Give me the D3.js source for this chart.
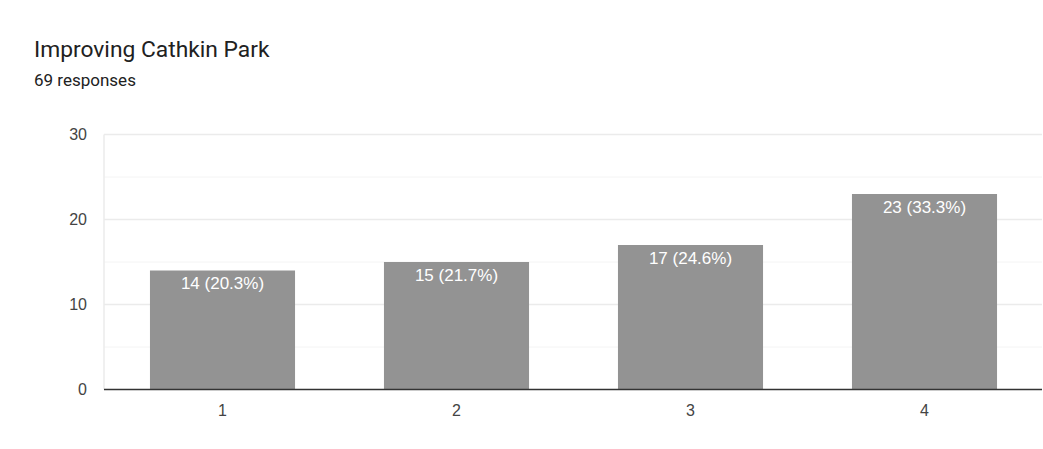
<!DOCTYPE html>
<html>
<head>
<meta charset="utf-8">
<script src="https://cdn.jsdelivr.net/npm/d3@7"></script>
<style>
  body { margin: 0; background: #fff; }
  svg { display: block; }
</style>
</head>
<body>
<svg id="chart"></svg>
<script>
const title = "Improving Cathkin Park"
const subtitle = "69 responses"
const categories = ["1", "2", "3", "4"]
const counts = [14, 15, 17, 23]
const percents = ["20.3%", "21.7%", "24.6%", "33.3%"]
const yTicks = [0, 10, 20, 30]
const yMinorTicks = [5, 15, 25]

const width = 1043
const height = 449
const margin = { top: 134.5, right: 1, bottom: 59.5, left: 104 }

const svg = d3.select("#chart")
  .attr("width", width)
  .attr("height", height)

// titles
svg.append("text")
  .attr("x", 34).attr("y", 57)
  .attr("style", "font-family: Roboto, sans-serif; font-size: 22.8px;")
  .attr("fill", "#212121")
  .text(title)

svg.append("text")
  .attr("x", 34).attr("y", 86)
  .attr("style", "font-family: Roboto, sans-serif; font-size: 17px;")
  .attr("fill", "#212121")
  .text(subtitle)

// bands sit a little inside the plot frame
const xScale = d3.scaleBand()
  .domain(categories)
  .range([margin.left + 1.5, width - margin.right - 0.5])
  .paddingInner(0.38)
  .paddingOuter(0.19)

const yScale = d3.scaleLinear()
  .domain([0, 30])
  .range([height - margin.bottom, margin.top])

// grid lines
svg.append("g")
  .selectAll("line.minor")
  .data(yMinorTicks)
  .join("line")
  .attr("x1", margin.left).attr("x2", width - margin.right)
  .attr("y1", d => yScale(d)).attr("y2", d => yScale(d))
  .attr("stroke", "#f4f4f4")

svg.append("g")
  .selectAll("line.major")
  .data(yTicks.slice(1))
  .join("line")
  .attr("x1", margin.left).attr("x2", width - margin.right)
  .attr("y1", d => yScale(d)).attr("y2", d => yScale(d))
  .attr("stroke", "#ebebeb")
  .attr("stroke-width", 1.5)

// left edge line
svg.append("line")
  .attr("x1", margin.left).attr("x2", margin.left)
  .attr("y1", yScale(30)).attr("y2", yScale(0))
  .attr("stroke", "#ebebeb")
  .attr("stroke-width", 1.5)

// y axis labels
const yAxis = svg.append("g")
  .attr("transform", `translate(${margin.left}, 0)`)
  .call(d3.axisLeft(yScale).tickValues(yTicks).tickSize(0).tickPadding(17))
yAxis.select(".domain").remove()
yAxis.selectAll("text")
  .attr("style", "font-family: 'Liberation Sans', Arial, sans-serif; font-size: 16px;")
  .attr("fill", "#444")

// bars
svg.append("g")
  .selectAll("rect")
  .data(counts)
  .join("rect")
  .attr("x", (d, i) => xScale(categories[i]))
  .attr("y", d => yScale(d))
  .attr("width", xScale.bandwidth())
  .attr("height", d => yScale(0) - yScale(d))
  .attr("fill", "#939393")

svg.append("g")
  .selectAll("text")
  .data(counts)
  .join("text")
  .attr("x", (d, i) => xScale(categories[i]) + xScale.bandwidth() / 2)
  .attr("y", d => yScale(d) + 18.5)
  .attr("text-anchor", "middle")
  .attr("style", "font-family: 'Liberation Sans', Arial, sans-serif; font-size: 17px;")
  .attr("fill", "#fff")
  .text((d, i) => `${d} (${percents[i]})`)

// baseline + x axis
const xAxis = svg.append("g")
  .attr("transform", `translate(0, ${yScale(0)})`)
  .call(d3.axisBottom(xScale).tickSize(0).tickPadding(15))
xAxis.select(".domain")
  .attr("d", `M${margin.left},0H${width - margin.right}`)
  .attr("stroke", "#333")
  .attr("stroke-width", 1.5)
xAxis.selectAll("text")
  .attr("style", "font-family: 'Liberation Sans', Arial, sans-serif; font-size: 16px;")
  .attr("fill", "#444")
</script>
</body>
</html>
